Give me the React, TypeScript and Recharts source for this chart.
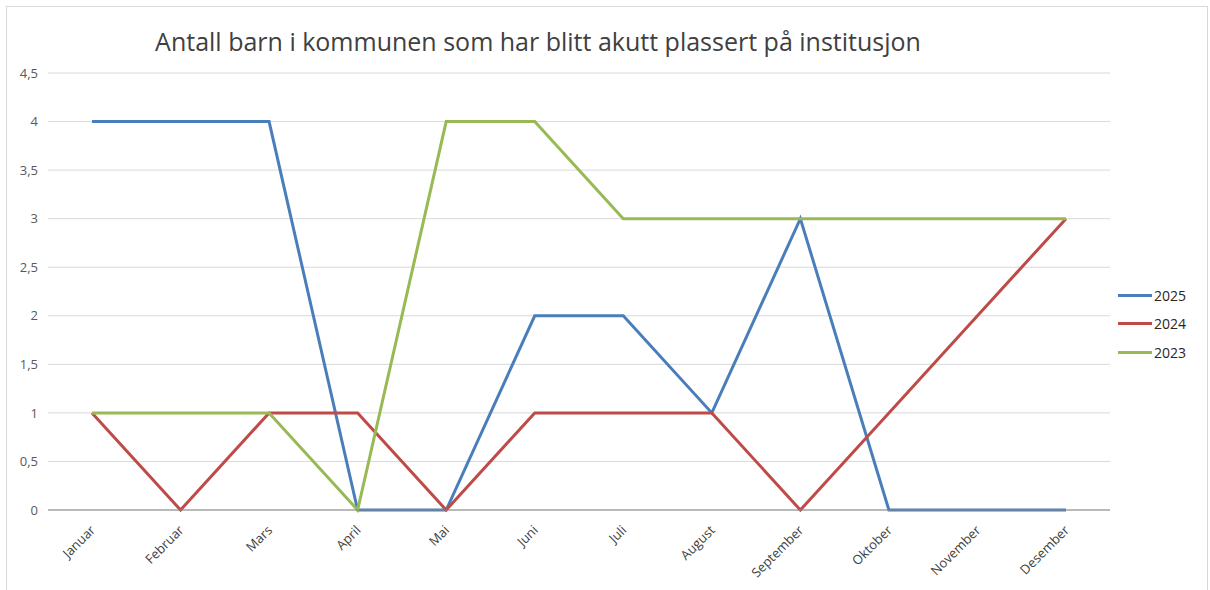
import React from 'react';
import { LineChart, Line, XAxis, YAxis, CartesianGrid } from 'recharts';

const months = ['Januar', 'Februar', 'Mars', 'April', 'Mai', 'Juni', 'Juli', 'August', 'September', 'Oktober', 'November', 'Desember'];
const values2025 = [4, 4, 4, 0, 0, 2, 2, 1, 3, 0, 0, 0];
const values2024 = [1, 0, 1, 1, 0, 1, 1, 1, 0, 1, 2, 3];
const values2023 = [1, 1, 1, 0, 4, 4, 3, 3, 3, 3, 3, 3];
const yTicks = [0, 0.5, 1, 1.5, 2, 2.5, 3, 3.5, 4, 4.5];

const series = [
  { key: '2025', color: '#4a7ebb' },
  { key: '2024', color: '#be4b48' },
  { key: '2023', color: '#98b954' },
];

const data = months.map((m, i) => ({
  month: m,
  '2025': values2025[i],
  '2024': values2024[i],
  '2023': values2023[i],
}));

const font = 'Open Sans, sans-serif';

const MonthTick = (props: any) => {
  const { x, y, payload } = props;
  return (
    <text
      transform={`translate(${x + 4},${y + 13}) rotate(-45)`}
      textAnchor="end"
      fontSize={13}
      fill="#404040"
      fontFamily={font}
    >
      {payload.value}
    </text>
  );
};

export default function App() {
  return (
    <div style={{ position: 'fixed', left: 0, top: 0, width: 1210, height: 590, background: '#fff' }}>
      <div
        style={{
          position: 'absolute',
          left: 6,
          top: 6,
          width: 1202,
          height: 590,
          border: '1px solid #d9d9d9',
          boxSizing: 'border-box',
        }}
      />
      <div
        style={{
          position: 'absolute',
          left: 0,
          top: 24,
          width: 1076,
          textAlign: 'center',
          fontFamily: font,
          fontSize: 25,
          color: '#404040',
        }}
      >
        Antall barn i kommunen som har blitt akutt plassert på institusjon
      </div>
      <LineChart
        width={1210}
        height={590}
        data={data}
        margin={{ top: 73, right: 100, bottom: 0, left: 0 }}
        style={{ position: 'absolute', left: 0, top: 0 }}
      >
        <CartesianGrid vertical={false} stroke="#d9d9d9" />
        <XAxis
          dataKey="month"
          height={80}
          padding={{ left: 44, right: 44 }}
          stroke="#868686"
          tickLine={false}
          tick={<MonthTick />}
          interval={0}
        />
        <YAxis
          width={48}
          domain={[0, 4.5]}
          ticks={yTicks}
          axisLine={false}
          tickLine={false}
          tickSize={0}
          tickMargin={10}
          tick={{ fill: '#595959', fontSize: 13, fontFamily: font }}
          tickFormatter={(v: number) => String(v).replace('.', ',')}
        />
        {series.map((s) => (
          <Line
            key={s.key}
            dataKey={s.key}
            type="linear"
            stroke={s.color}
            strokeWidth={3}
            dot={false}
            activeDot={false}
            isAnimationActive={false}
          />
        ))}
      </LineChart>
      <div style={{ position: 'absolute', left: 1118, top: 281, fontFamily: font, fontSize: 14, color: '#262626' }}>
        {series.map((s) => (
          <div key={s.key} style={{ display: 'flex', alignItems: 'center', height: 28.5 }}>
            <div style={{ width: 34, height: 3, background: s.color, marginRight: 2 }} />
            <span>{s.key}</span>
          </div>
        ))}
      </div>
    </div>
  );
}
